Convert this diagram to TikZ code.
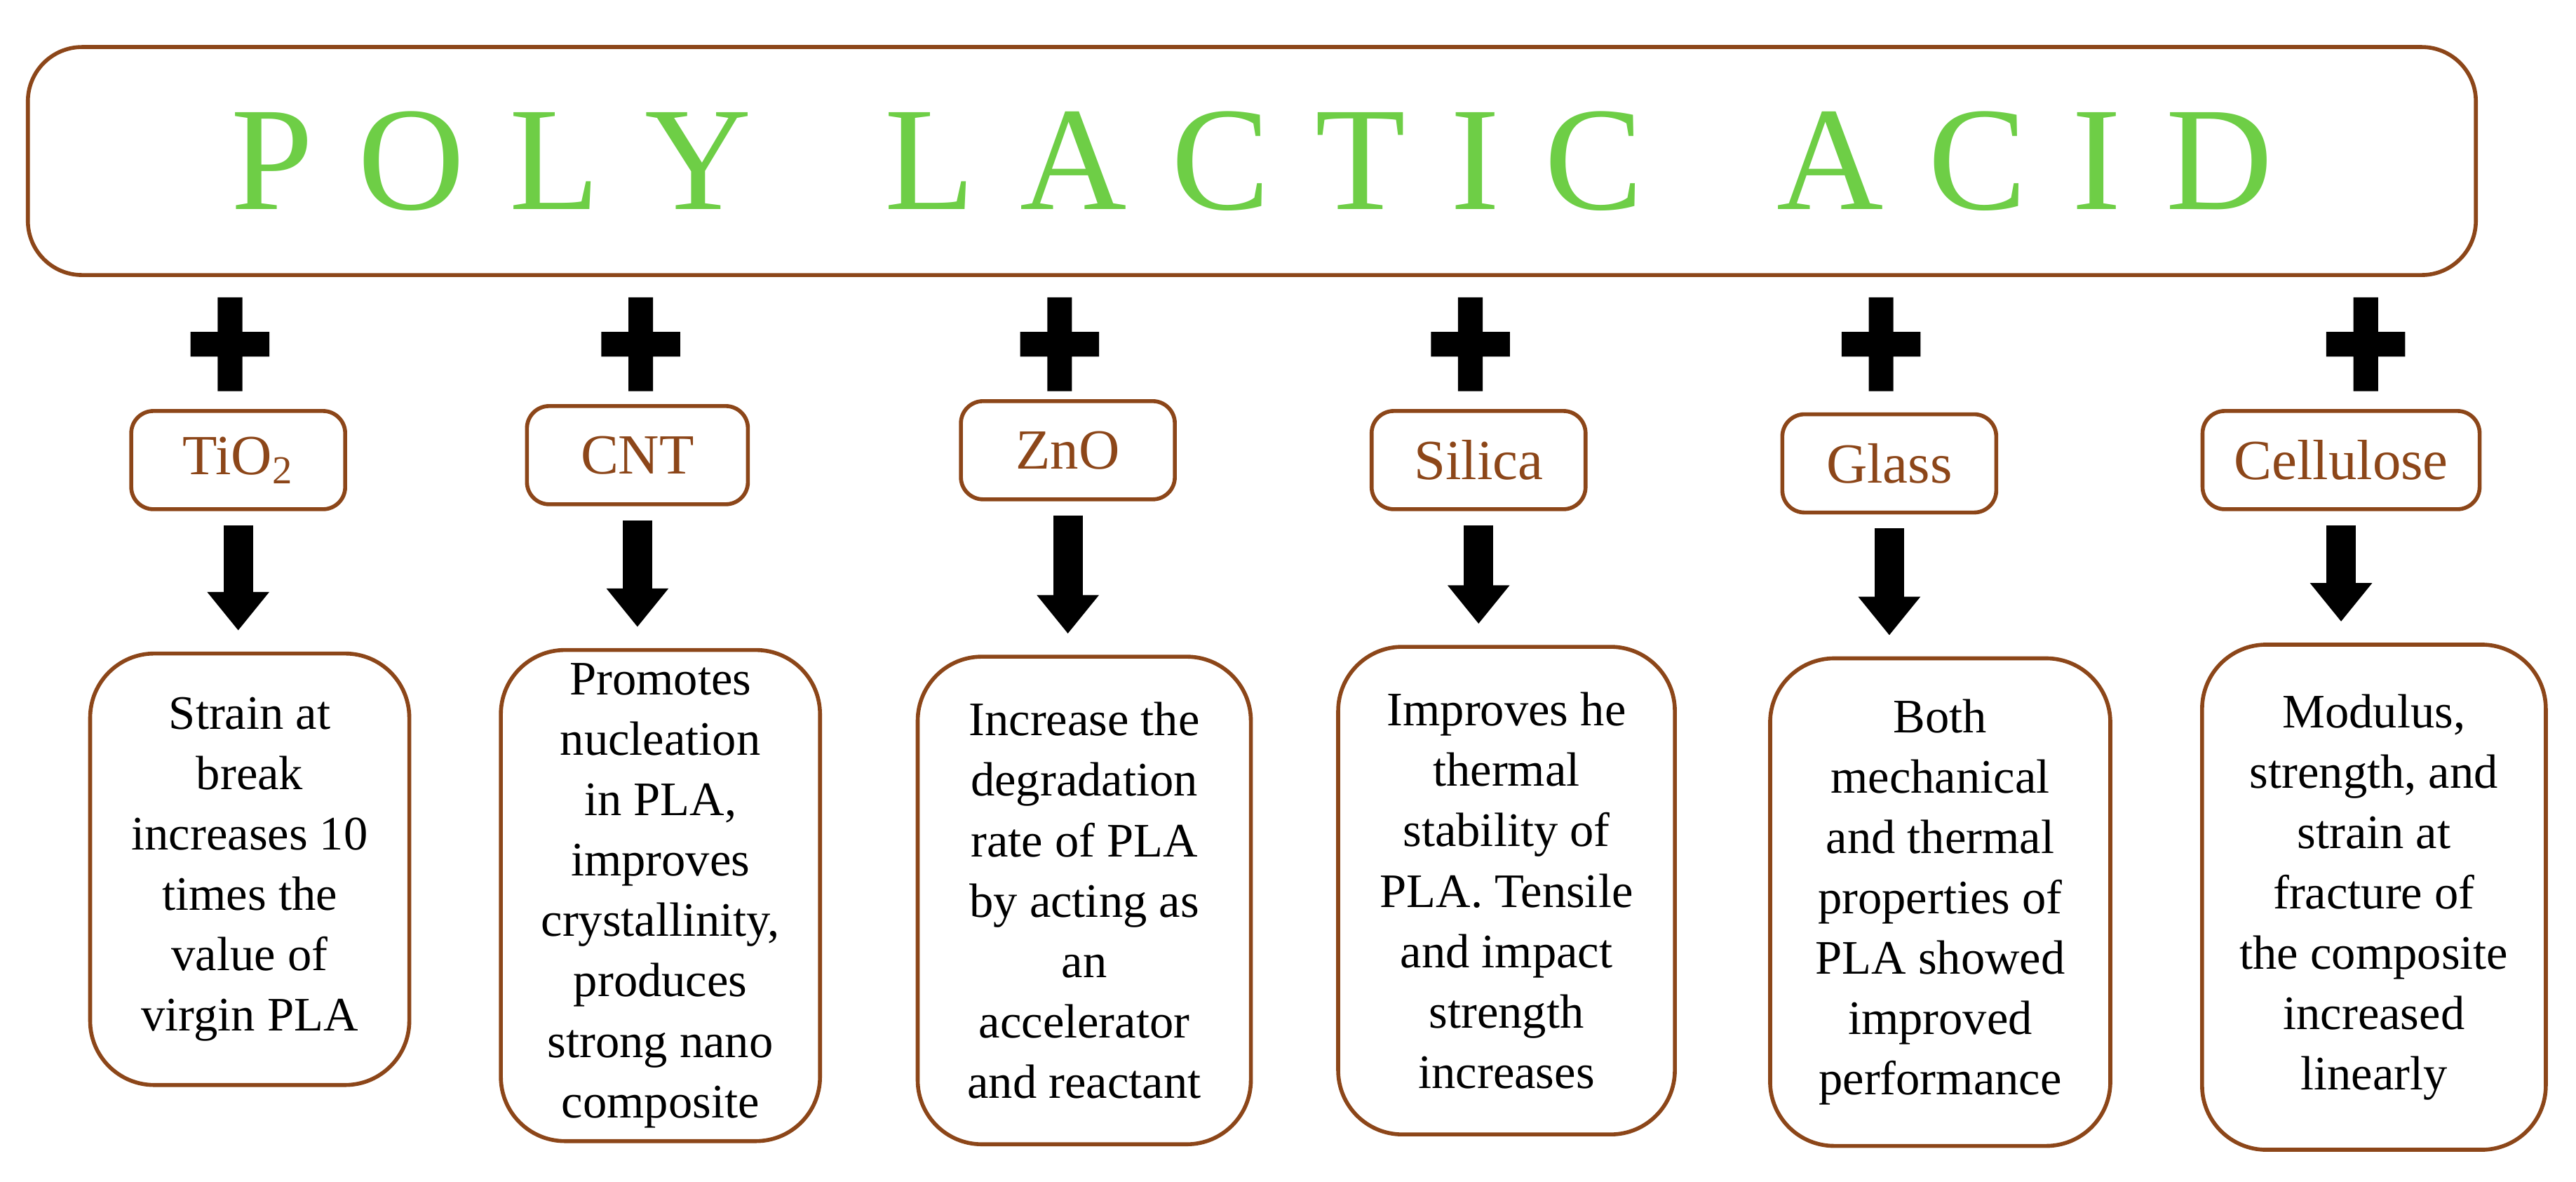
\documentclass[tikz,border=0pt]{standalone}
\usepackage{fontspec}
\setmainfont{Liberation Serif}
\usetikzlibrary{arrows.meta,positioning}
\definecolor{plagreen}{RGB}{110,206,70}
\definecolor{plabrown}{RGB}{140,70,25}
\tikzset{
  title/.style={draw=plabrown,line width=1.6pt,rounded corners=22pt,minimum width=34.9cm,minimum height=3.25cm},
  agent/.style={draw=plabrown,line width=1.6pt,rounded corners=9pt,text=plabrown,font=\fontsize{23}{27}\selectfont,minimum height=1.4cm},
  effect/.style={draw=plabrown,line width=1.6pt,rounded corners=26pt,align=center,font=\fontsize{19.5}{24.5}\selectfont},
  bigarrow/.style={line width=0.42cm,-{Triangle[width=0.85cm,length=0.55cm]},shorten <=0.2cm,shorten >=0.3cm}
}
\begin{document}
\begin{tikzpicture}[x=0.02342cm,y=-0.02342cm]
\useasboundingbox (0,0) rectangle (1568,719);

% Title
\node[title] (pla) at (762,98) {};
\node[text=plagreen,font=\fontsize{60}{62}\selectfont] (plaText) at (pla)
  {P\hspace{0.64cm}O\hspace{0.64cm}L\hspace{0.64cm}Y\hspace{1.9cm}L\hspace{0.64cm}A\hspace{0.64cm}C\hspace{0.64cm}T\hspace{0.64cm}I\hspace{0.64cm}C\hspace{1.9cm}A\hspace{0.64cm}C\hspace{0.64cm}I\hspace{0.64cm}D};

% Agents
\node[agent,minimum width=3.05cm] (tio) at (145,280) {TiO\textsubscript{2}};
\node[agent,minimum width=3.15cm] (cnt) at (388,277) {CNT};
\node[agent,minimum width=3.05cm] (zno) at (650,274) {ZnO};
\node[agent,minimum width=3.05cm] (sil) at (900,280) {Silica};
\node[agent,minimum width=3.05cm] (gla) at (1150,282) {Glass};
\node[agent,minimum width=3.95cm] (cel) at (1425,280) {Cellulose};

% Effects
\node[effect,minimum width=4.55cm,minimum height=6.15cm] (e1) at (152,529) {Strain at\\break\\increases 10\\times the\\value of\\virgin PLA};
\node[effect,minimum width=4.55cm,minimum height=7.0cm] (e2) at (402,545) {Promotes\\nucleation\\in PLA,\\improves\\crystallinity,\\produces\\strong nano\\composite};
\node[effect,minimum width=4.75cm,minimum height=6.95cm] (e3) at (660,548) {Increase the\\degradation\\rate of PLA\\by acting as\\an\\accelerator\\and reactant};
\node[effect,minimum width=4.8cm,minimum height=6.95cm] (e4) at (917,542) {Improves he\\thermal\\stability of\\PLA. Tensile\\and impact\\strength\\increases};
\node[effect,minimum width=4.85cm,minimum height=6.95cm] (e5) at (1181,549) {Both\\mechanical\\and thermal\\properties of\\PLA showed\\improved\\performance};
\node[effect,minimum width=4.9cm,minimum height=7.2cm] (e6) at (1445,546) {Modulus,\\strength, and\\strain at\\fracture of\\the composite\\increased\\linearly};

% Plus signs
\foreach \px in {140,390,645,895,1145,1440}
  \fill (\px-7.5,181) rectangle (\px+7.5,238) (\px-24,202) rectangle (\px+24,217);

% Arrows
\foreach \a/\b in {tio/e1,cnt/e2,zno/e3,sil/e4,gla/e5,cel/e6}
  \draw[bigarrow] (\a.south) -- (\a.south |- \b.north);
\end{tikzpicture}
\end{document}
